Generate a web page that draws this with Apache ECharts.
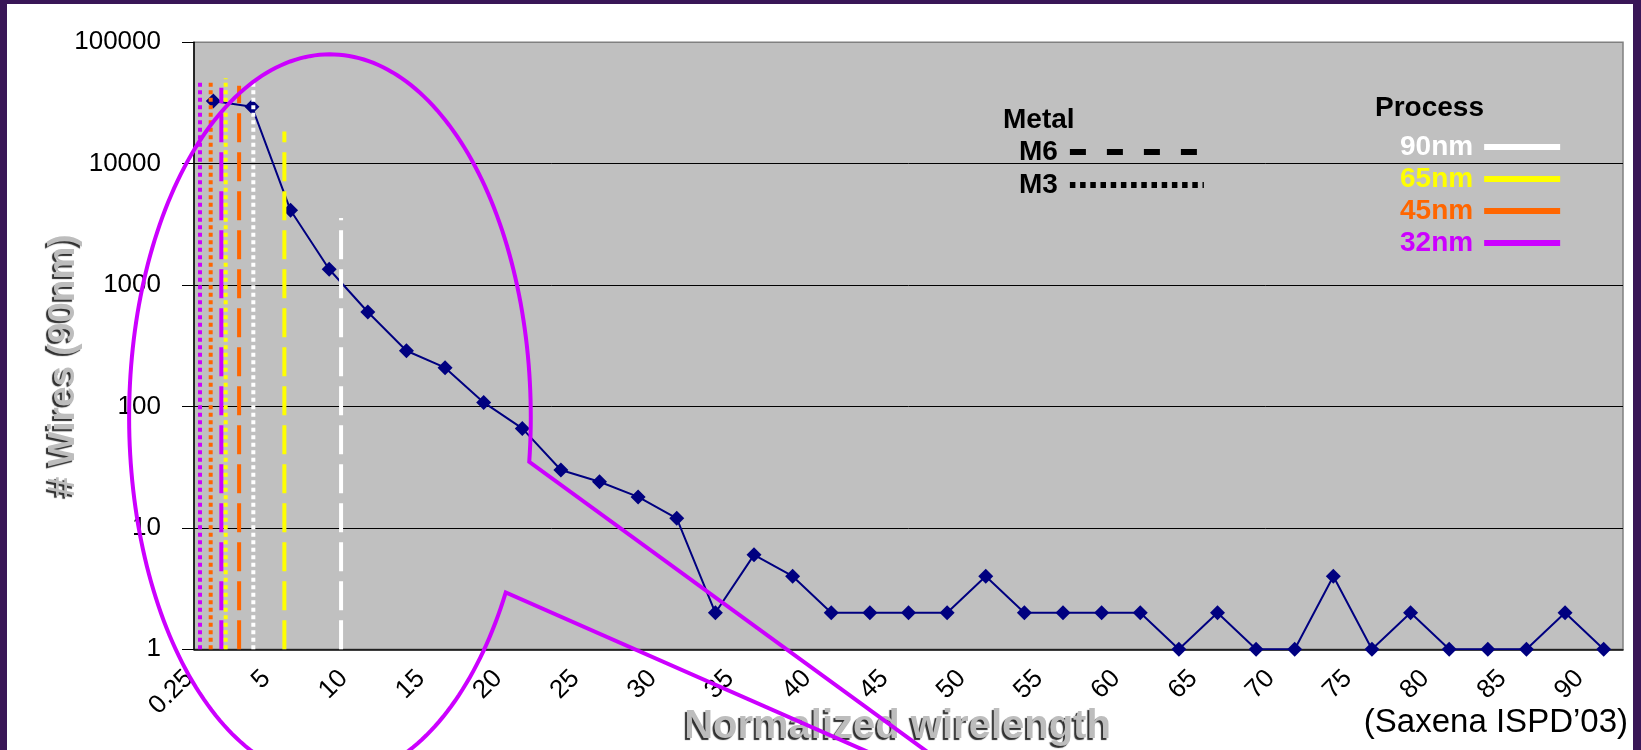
<!DOCTYPE html>
<html>
<head>
<meta charset="utf-8">
<script src="https://cdn.jsdelivr.net/npm/echarts@6/dist/echarts.min.js"></script>
<style>
html,body{margin:0;padding:0;width:1641px;height:750px;overflow:hidden;background:#391657;}
#chart{position:absolute;left:7px;top:4px;width:1626px;height:746px;background:#ffffff;}
</style>
</head>
<body>
<div id="chart"></div>
<script>
// ---- data ----
const CATEGORIES = ['0.25','2.5','5','7.5','10','12.5','15','17.5','20','22.5','25','27.5','30','32.5','35','37.5','40','42.5','45','47.5','50','52.5','55','57.5','60','62.5','65','67.5','70','72.5','75','77.5','80','82.5','85','87.5','90'];
const WIRES = [32800, 29500, 4130, 1350, 600, 288, 209, 108, 66, 30, 24, 18, 12, 2, 6, 4, 2, 2, 2, 2, 4, 2, 2, 2, 2, 1, 2, 1, 1, 4, 1, 2, 1, 1, 1, 2, 1];
const Y_TICKS = [1, 10, 100, 1000, 10000, 100000];

// critical-length markers (x in normalized wirelength, top in # wires)
const LINE_PROCESS = ['32nm', '45nm', '32nm', '65nm', '45nm', '90nm', '65nm', '90nm'];
const LINE_METAL   = ['M3',   'M3',   'M6',   'M3',   'M6',   'M3',   'M6',   'M6'];
const LINE_X       = [-0.86, -0.17, 0.52, 0.80, 1.67, 2.59, 4.60, 8.27];
const LINE_TOP     = [47300, 47300, 42300, 50500, 43900, 48300, 18400, 3570];

const PROCESS = ['90nm', '65nm', '45nm', '32nm'];
const PROCESS_COLORS = ['#FFFFFF', '#FFFF00', '#FF6600', '#CC00FF'];
const METALS = ['M6', 'M3'];

// callout ellipse: [wirelength, log10(#wires)]
const CALLOUT_CENTER = [7.55, 1.913];
const CALLOUT_RADII = [13.0, 2.988];
const CALLOUT_TIP = [52.1, -1.39];
const CALLOUT_GAP = [0.1235, 0.5045];

// ---- styles ----
const FONT = 'Liberation Sans, Arial, sans-serif';
const DASH_M6 = [29, 10];
const DOT_M3 = [4, 3.5];
const colorOf = p => PROCESS_COLORS[PROCESS.indexOf(p)];

const chart = echarts.init(document.getElementById('chart'), null, {renderer: 'canvas'});

const markerSeries = LINE_X.map((x, i) => ({
  name: LINE_PROCESS[i],
  type: 'line',
  xAxisIndex: 1,
  yAxisIndex: 0,
  data: [[x, 1], [x, LINE_TOP[i]]],
  symbol: 'none',
  silent: true,
  z: 3,
  lineStyle: {color: colorOf(LINE_PROCESS[i]), width: 4, type: LINE_METAL[i] === 'M3' ? DOT_M3 : DASH_M6}
}));

const titleShadow = {textShadowColor: '#303030', textShadowOffsetX: -2, textShadowOffsetY: 2, textShadowBlur: 1};

const option = {
  animation: false,
  backgroundColor: '#ffffff',
  textStyle: {fontFamily: FONT},
  title: [
    {text: 'Metal', left: 996, top: 102, padding: 0, textStyle: {fontSize: 28, fontWeight: 'bold', color: '#000', fontFamily: FONT}},
    {text: 'Process', left: 1368, top: 90, padding: 0, textStyle: {fontSize: 28, fontWeight: 'bold', color: '#000', fontFamily: FONT}},
    {text: '(Saxena ISPD\u201903)', right: 5, top: 702, padding: 0, textStyle: {fontSize: 33, fontWeight: 'normal', color: '#000', fontFamily: FONT}}
  ],
  legend: [
    {
      orient: 'vertical', align: 'right', left: 1012, top: 134, padding: 0, itemGap: 5,
      itemWidth: 134, itemHeight: 8, selectedMode: false,
      textStyle: {fontSize: 28, fontWeight: 'bold', color: '#000', fontFamily: FONT, padding: [0, 7, 0, 0]},
      data: [
        {name: 'M6', itemStyle: {opacity: 0}, lineStyle: {width: 6, type: [16, 21], color: '#000'}},
        {name: 'M3', itemStyle: {opacity: 0}, lineStyle: {width: 6, type: [5.5, 4.7], color: '#000'}}
      ]
    },
    {
      orient: 'vertical', align: 'right', left: 1393, top: 129, padding: 0, itemGap: 4,
      itemWidth: 76, itemHeight: 8,
      textStyle: {fontSize: 28, fontWeight: 'bold', fontFamily: FONT, padding: [0, 6, 0, 0]},
      data: PROCESS.map((p, i) => ({
        name: p,
        itemStyle: {opacity: 0},
        lineStyle: {width: 6, type: 'solid', color: PROCESS_COLORS[i]},
        textStyle: {color: PROCESS_COLORS[i]}
      }))
    }
  ],
  grid: {
    left: 187, right: 10, top: 38.3, bottom: 100.7,
    outerBoundsMode: 'none', containLabel: false,
    show: true, backgroundColor: '#C0C0C0', borderColor: '#808080', borderWidth: 1.5
  },
  xAxis: [
    {
      type: 'category', data: CATEGORIES, boundaryGap: true, position: 'bottom',
      axisLine: {onZero: false, lineStyle: {color: '#000', width: 1.5}},
      axisTick: {interval: 0, length: 9, lineStyle: {color: '#000'}},
      axisLabel: {interval: 1, rotate: 45, fontSize: 26, color: '#000', fontFamily: FONT, margin: 1, padding: [0, 34, 0, 0]},
      splitLine: {show: false},
      name: 'Normalized wirelength', nameLocation: 'middle', nameGap: 58, nameMoveOverlap: false,
      nameTextStyle: Object.assign({fontSize: 40, fontWeight: 'bold', color: '#BDBDBD', fontFamily: FONT, padding: [0, 22, 0, 0]}, titleShadow)
    },
    {type: 'value', min: -1.25, max: 91.25, show: false, position: 'bottom'}
  ],
  yAxis: [
    {
      type: 'log', logBase: 10, min: Y_TICKS[0], max: Y_TICKS[Y_TICKS.length - 1],
      axisLine: {show: true, onZero: false, lineStyle: {color: '#000', width: 1.5}},
      axisTick: {show: true, length: 12, lineStyle: {color: '#000'}},
      axisLabel: {fontSize: 26, color: '#000', fontFamily: FONT, margin: 33,
        formatter: v => String(Math.round(v))},
      splitLine: {show: true, showMinLine: false, showMaxLine: false, lineStyle: {color: '#000', width: 1}},
      name: '# Wires (90nm)', nameLocation: 'middle', nameRotate: 90, nameGap: 112, nameMoveOverlap: false,
      nameTextStyle: Object.assign({fontSize: 37, fontWeight: 'bold', color: '#BDBDBD', fontFamily: FONT, padding: [0, 40, 0, 0]}, titleShadow)
    },
    {type: 'value', min: 0, max: 5, show: false}
  ],
  series: [
    {
      name: 'Wires', type: 'line', xAxisIndex: 0, yAxisIndex: 0, data: WIRES,
      symbol: 'diamond', symbolSize: 15, z: 2,
      lineStyle: {color: '#000080', width: 2}, itemStyle: {color: '#000080'}
    },
    ...markerSeries,
    {name: 'M6', type: 'line', data: [], symbol: 'none', lineStyle: {color: '#000', width: 6, type: [16, 21]}},
    {name: 'M3', type: 'line', data: [], symbol: 'none', lineStyle: {color: '#000', width: 6, type: [5.5, 4.7]}},
    {
      type: 'custom', xAxisIndex: 1, yAxisIndex: 1, silent: true, clip: false, z: 5,
      data: [CALLOUT_CENTER],
      renderItem: (params, api) => {
        const c = api.coord(CALLOUT_CENTER);
        const r = api.size(CALLOUT_RADII);
        const tip = api.coord(CALLOUT_TIP);
        const a0 = CALLOUT_GAP[1], a1 = CALLOUT_GAP[0] + 2 * Math.PI;
        const pts = [];
        for (let k = 0; k <= 240; k++) {
          const t = a0 + (a1 - a0) * k / 240;
          pts.push([c[0] + r[0] * Math.cos(t), c[1] + r[1] * Math.sin(t)]);
        }
        pts.push(tip);
        return {type: 'polygon', shape: {points: pts}, style: {fill: 'none', stroke: '#CC00FF', lineWidth: 4, lineJoin: 'miter'}};
      }
    }
  ]
};
chart.setOption(option);
</script>
</body>
</html>
